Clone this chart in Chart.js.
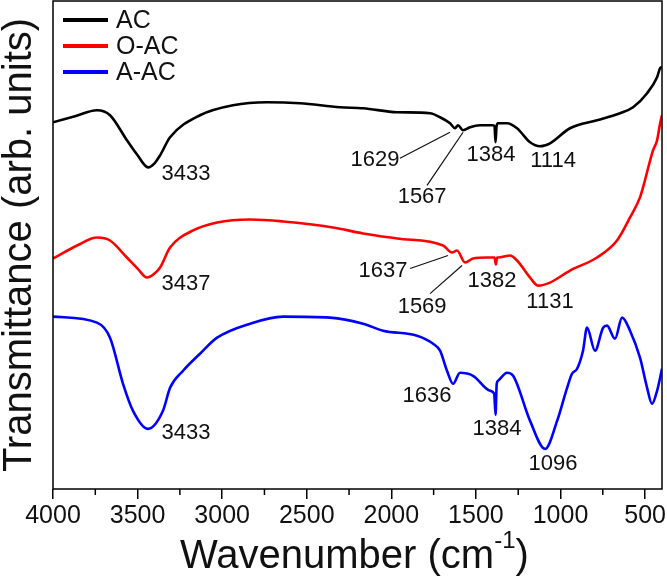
<!DOCTYPE html>
<html>
<head>
<meta charset="utf-8">
<script src="https://cdn.jsdelivr.net/npm/chart.js@4.4.1/dist/chart.umd.min.js"></script>
<style>
  body { margin: 0; background: #fff; }
  canvas { display: block; }
</style>
</head>
<body>
<canvas id="ftirChart" width="667" height="578"></canvas>
<script>
// wavenumber (cm-1) / transmittance (arb. units)
const AC_WN = [4000, 3870, 3740, 3663, 3563, 3500, 3438, 3400, 3367, 3308, 3131, 2936, 2735, 2540, 2303, 2167, 1966, 1771, 1712, 1653, 1623, 1606, 1576, 1535, 1476, 1399, 1390, 1384, 1378, 1369, 1316, 1257, 1180, 1121, 1062, 944, 784, 648, 571, 488, 429, 411, 400];
const AC_T = [366, 372, 378, 373, 348, 333, 321, 325, 333, 351, 373, 383, 386, 385, 381, 380, 376, 375, 371, 365, 360, 363, 358, 361, 363, 363, 362, 346, 362, 365, 365, 360, 346, 342, 345, 360, 368, 375, 381, 395, 411, 420, 421];

const OAC_WN = [4000, 3858, 3740, 3663, 3563, 3500, 3444, 3400, 3367, 3308, 3172, 3030, 2835, 2640, 2345, 2167, 1966, 1694, 1641, 1612, 1564, 1517, 1434, 1390, 1382, 1375, 1369, 1298, 1257, 1180, 1133, 1062, 944, 784, 666, 589, 530, 512, 453, 429, 411, 400];
const OAC_T = [230, 243, 251, 248, 231, 220, 211, 215, 221, 241, 258, 266, 269, 267, 261, 255, 250, 243, 236, 238, 226, 230, 231, 231, 224, 231, 231, 233, 228, 211, 203, 206, 218, 231, 248, 271, 291, 301, 338, 348, 365, 373];

const AAC_WN = [4000, 3740, 3663, 3586, 3527, 3438, 3350, 3308, 3231, 3131, 3030, 2835, 2640, 2362, 2167, 2049, 1848, 1753, 1712, 1671, 1635, 1594, 1517, 1416, 1392, 1384, 1377, 1369, 1316, 1280, 1180, 1091, 1020, 961, 932, 902, 867, 843, 796, 748, 725, 678, 636, 589, 530, 488, 459, 429, 400];
const AAC_T = [172, 166, 151, 105, 78, 60, 78, 101, 118, 135, 151, 165, 172, 171, 165, 158, 153, 145, 138, 118, 105, 116, 113, 98, 95, 74, 105, 108, 116, 113, 68, 40, 68, 101, 115, 120, 138, 161, 138, 161, 163, 150, 171, 158, 131, 101, 85, 98, 120];

const SERIES_NAMES = ['AC', 'O-AC', 'A-AC'];
const X_TICKS = [4000, 3500, 3000, 2500, 2000, 1500, 1000, 500];

const FONT = '"Liberation Sans", Arial, sans-serif';

function toPoints(xs, ys) {
    return xs.map(function (x, i) { return { x: x, y: ys[i] }; });
}

function isMajor(v) {
    return X_TICKS.indexOf(v) >= 0;
}

// peak labels: text, centre in data units
const peakLabels = [
    ['3433', 3214, 314], ['1629', 2096, 328], ['1567', 1818, 291], ['1384', 1411, 333], ['1114', 1044, 327],
    ['3437', 3214, 205], ['1637', 2049, 218], ['1569', 1818, 182], ['1382', 1405, 208], ['1131', 1062, 187],
    ['3433', 3214, 56], ['1636', 1789, 93], ['1384', 1375, 60], ['1096', 1044, 25]
];
// leader lines: x1, y1, x2, y2 in data units
const leaders = [
    [1949, 330, 1653, 356], [1789, 303, 1576, 356],
    [1889, 220, 1665, 233], [1771, 195, 1582, 223]
];

const decorPlugin = {
    id: 'decor',
    afterDraw: function (chart) {
        const ctx = chart.ctx;
        const a = chart.chartArea;
        const xs = chart.scales.x;
        const ys = chart.scales.y;
        ctx.save();

        // frame
        ctx.strokeStyle = '#000';
        ctx.lineWidth = 1.5;
        ctx.strokeRect(a.left, a.top, a.right - a.left, a.bottom - a.top);

        // minor ticks (shorter than the major ones drawn by the scale)
        xs.ticks.forEach(function (t) {
            if (isMajor(t.value)) return;
            const px = xs.getPixelForValue(t.value);
            ctx.beginPath();
            ctx.moveTo(px, a.bottom);
            ctx.lineTo(px, a.bottom + 6);
            ctx.stroke();
        });

        // leader lines
        ctx.lineWidth = 1.2;
        ctx.strokeStyle = '#111';
        leaders.forEach(function (l) {
            ctx.beginPath();
            ctx.moveTo(xs.getPixelForValue(l[0]), ys.getPixelForValue(l[1]));
            ctx.lineTo(xs.getPixelForValue(l[2]), ys.getPixelForValue(l[3]));
            ctx.stroke();
        });

        // peak labels
        ctx.fillStyle = '#111';
        ctx.font = '22px ' + FONT;
        ctx.textAlign = 'center';
        ctx.textBaseline = 'middle';
        peakLabels.forEach(function (p) {
            ctx.fillText(p[0], xs.getPixelForValue(p[1]), ys.getPixelForValue(p[2]));
        });

        // legend
        ctx.font = '25px ' + FONT;
        ctx.textAlign = 'left';
        ctx.lineWidth = 4;
        chart.data.datasets.forEach(function (ds, i) {
            const y = a.top + 19 + i * 26;
            ctx.strokeStyle = ds.borderColor;
            ctx.beginPath();
            ctx.moveTo(a.left + 10, y);
            ctx.lineTo(a.left + 55, y);
            ctx.stroke();
            ctx.fillStyle = '#111';
            ctx.fillText(ds.label, a.left + 63, y + 1);
        });

        // x axis title with superscript
        ctx.fillStyle = '#111';
        ctx.textBaseline = 'alphabetic';
        const big = '40px ' + FONT;
        const small = '24px ' + FONT;
        const part1 = 'Wavenumber (cm';
        const sup = '-1';
        const part2 = ')';
        ctx.font = big;
        const w1 = ctx.measureText(part1).width;
        ctx.font = small;
        const w2 = ctx.measureText(sup).width;
        let x = 180;
        const base = 568;
        ctx.font = big;
        ctx.fillText(part1, x, base);
        x += w1;
        ctx.font = small;
        ctx.fillText(sup, x, base - 20);
        x += w2;
        ctx.font = big;
        ctx.fillText(part2, x, base);

        ctx.restore();
    }
};

const ctx = document.getElementById('ftirChart').getContext('2d');

new Chart(ctx, {
    type: 'line',
    data: {
        datasets: [{
            label: SERIES_NAMES[0],
            data: toPoints(AC_WN, AC_T),
            borderColor: '#000000',
        }, {
            label: SERIES_NAMES[1],
            data: toPoints(OAC_WN, OAC_T),
            borderColor: '#ff0000',
        }, {
            label: SERIES_NAMES[2],
            data: toPoints(AAC_WN, AAC_T),
            borderColor: '#0000ff',
        }]
    },
    options: {
        responsive: false,
        animation: false,
        datasets: {
            line: {
                borderWidth: 2.6,
                pointRadius: 0,
                fill: false,
                cubicInterpolationMode: 'monotone'
            }
        },
        layout: {
            padding: { top: 1, right: 5, left: 0, bottom: 0 }
        },
        plugins: {
            legend: { display: false },
            tooltip: { enabled: false }
        },
        scales: {
            x: {
                type: 'linear',
                reverse: true,
                min: 400,
                max: 4000,
                afterFit: function (scale) {
                    scale.height = 89;
                    scale.paddingLeft = 0;
                    scale.paddingRight = 0;
                },
                ticks: {
                    stepSize: 250,
                    includeBounds: false,
                    autoSkip: false,
                    maxRotation: 0,
                    padding: 2,
                    color: '#111',
                    font: { family: FONT, size: 25 },
                    callback: function (v) {
                        return isMajor(v) ? String(v) : '';
                    }
                },
                grid: {
                    drawOnChartArea: false,
                    drawTicks: true,
                    tickLength: 10,
                    color: function (c) {
                        return c.tick && isMajor(c.tick.value) ? '#000' : 'rgba(0,0,0,0)';
                    },
                    lineWidth: 1.5
                },
                border: { display: false }
            },
            y: {
                min: 0,
                max: 487,
                afterFit: function (scale) { scale.width = 53; },
                ticks: { display: false },
                grid: { display: false },
                border: { display: false },
                title: {
                    display: true,
                    text: 'Transmittance (arb. units)',
                    color: '#111',
                    padding: 0,
                    font: { family: FONT, size: 40, lineHeight: 1 }
                }
            }
        }
    },
    plugins: [decorPlugin]
});
</script>
</body>
</html>
